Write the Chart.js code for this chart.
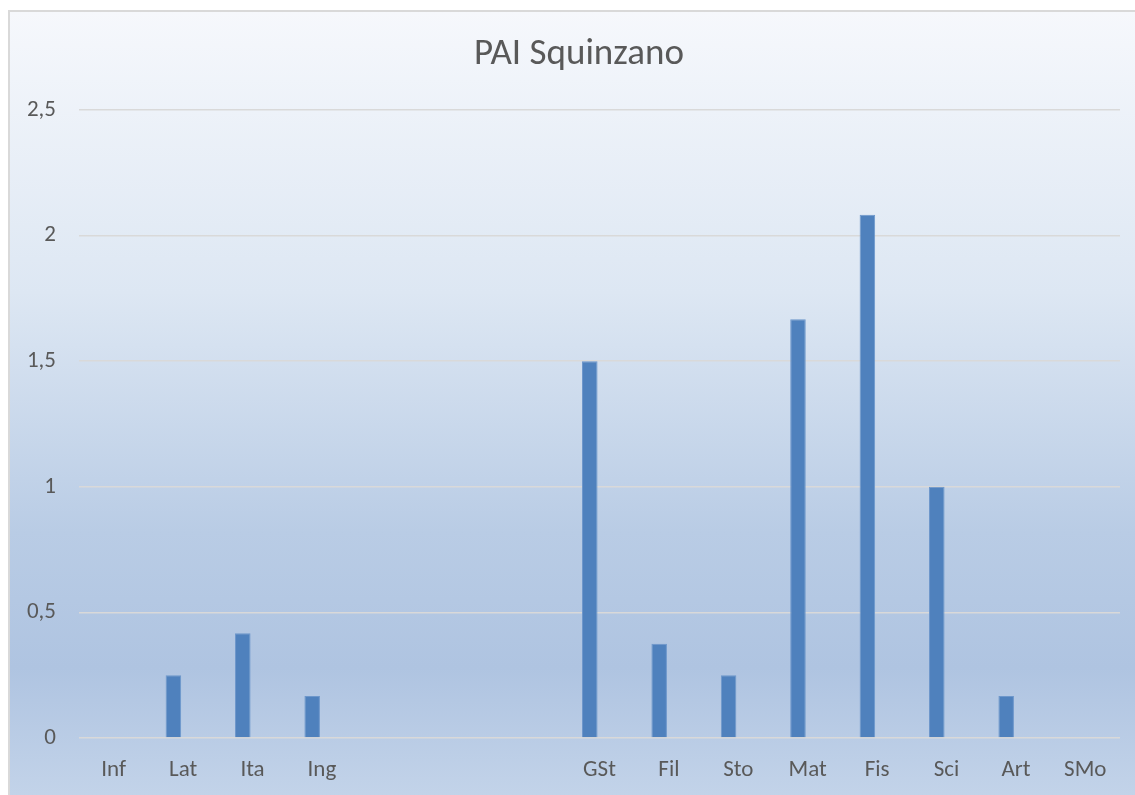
<!DOCTYPE html>
<html>
<head>
<meta charset="utf-8">
<script src="https://cdn.jsdelivr.net/npm/chart.js@4"></script>
<style>
  body { margin: 0; background: #fff; width: 1135px; height: 795px; overflow: hidden; }
  #bg {
    position: absolute; left: 8px; top: 10px; width: 1140px; height: 800px;
    border-left: 2px solid #d9d9d9; border-top: 2px solid #d9d9d9;
    background: linear-gradient(to bottom, #f6f8fc 0%, #dde7f3 35%, #b9cce5 65%, #afc4e1 82%, #c5d5ea 100%);
  }
  #wrap { position: absolute; left: 0; top: 0; width: 1135px; height: 795px; }
</style>
</head>
<body>
<div id="bg"></div>
<div id="wrap"><canvas id="myChart" width="1135" height="795"></canvas></div>
<script>
const chartTitle = "PAI Squinzano";
const categories = ["Inf", "Lat", "Ita", "Ing", "", "", "", "GSt", "Fil", "Sto", "Mat", "Fis", "Sci", "Art", "SMo"];
const values = [0, 0.25, 0.4167, 0.1667, null, null, null, 1.5, 0.375, 0.25, 1.6667, 2.0833, 1.0, 0.1667, 0];
// second (empty) series in the original workbook, keeps bars off-centre
const emptySeries = [null, null, null, null, null, null, null, null, null, null, null, null, null, null, null];
const yTicks = [0, 0.5, 1, 1.5, 2, 2.5];

const fontFamily = "Calibri, Carlito, Lato, sans-serif";
const ctx = document.getElementById("myChart");

// the excel title is centred on the whole chart box, not on the canvas
const titlePlugin = {
  id: "excelTitle",
  afterDraw(chart) {
    const c = chart.ctx;
    c.save();
    c.font = "37px " + fontFamily;
    c.fillStyle = "#595959";
    c.textAlign = "center";
    c.textBaseline = "middle";
    c.fillText(chartTitle, 579, 55);
    c.restore();
  },
};

new Chart(ctx, {
  type: "bar",
  data: {
    labels: categories,
    datasets: [
      {
        label: chartTitle,
        data: values,
        backgroundColor: "#4f81bd",
        borderColor: "#6d97cb",
        borderWidth: 1,
        barPercentage: 0.8,
        categoryPercentage: 0.56,
      },
      {
        label: "",
        data: emptySeries,
        backgroundColor: "#c0504d",
        barPercentage: 0.8,
        categoryPercentage: 0.56,
      },
    ],
  },
  plugins: [titlePlugin],
  options: {
    responsive: false,
    animation: false,
    layout: { padding: { left: 0, right: 15, top: 110, bottom: 0 } },
    plugins: {
      legend: { display: false },
      tooltip: { enabled: false },
      title: { display: false },
    },
    scales: {
      x: {
        afterFit: (scale) => { scale.height = 57; },
        grid: { display: false, drawTicks: false },
        border: { display: false },
        ticks: {
          color: "#595959",
          font: { family: fontFamily, size: 23 },
          padding: 18,
          maxRotation: 0,
          autoSkip: false,
        },
      },
      y: {
        min: 0,
        max: 2.5,
        afterFit: (scale) => { scale.width = 79; },
        afterBuildTicks: (scale) => { scale.ticks = yTicks.map((v) => ({ value: v })); },
        grid: { color: "#d9d9d9", lineWidth: 1.5, drawTicks: false },
        border: { display: false },
        ticks: {
          color: "#595959",
          font: { family: fontFamily, size: 23 },
          padding: 23,
          callback: (v) => String(v).replace(".", ","),
        },
      },
    },
  },
});
</script>
</body>
</html>
